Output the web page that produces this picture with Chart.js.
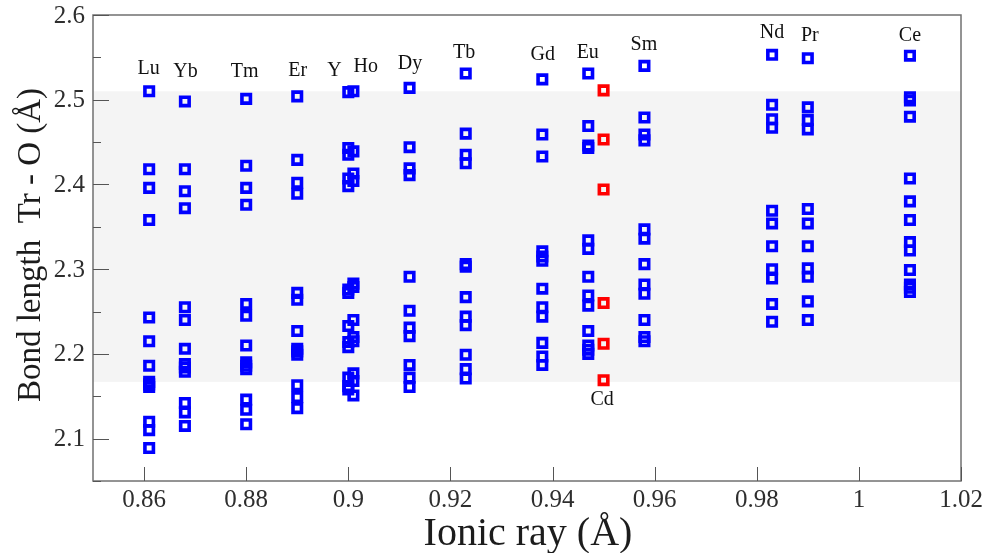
<!DOCTYPE html>
<html>
<head>
<meta charset="utf-8">
<script src="https://cdn.jsdelivr.net/npm/chart.js@4/dist/chart.umd.min.js"></script>
<style>
  html, body { margin: 0; padding: 0; background: #ffffff; }
  #wrap { width: 986px; height: 553px; }
</style>
</head>
<body>
<div id="wrap"><canvas id="bonds" width="986" height="553"></canvas></div>
<script>
// Trivalent cations and their ionic radii (Å)
const elements = ['Lu', 'Yb', 'Tm', 'Er', 'Y', 'Ho', 'Dy', 'Tb', 'Gd', 'Eu', 'Sm', 'Nd', 'Pr', 'Ce'];
const ionicRadius = [0.861, 0.868, 0.880, 0.890, 0.900, 0.901, 0.912, 0.923, 0.938, 0.947, 0.958, 0.983, 0.990, 1.010];

// Tr - O bond lengths (Å) found around each cation
const bondLengths = [
  [2.510, 2.418, 2.396, 2.358, 2.243, 2.215, 2.186, 2.167, 2.164, 2.161, 2.120, 2.110, 2.089],          // Lu
  [2.498, 2.418, 2.392, 2.372, 2.255, 2.240, 2.206, 2.188, 2.184, 2.179, 2.142, 2.131, 2.115],          // Yb
  [2.501, 2.422, 2.396, 2.376, 2.259, 2.245, 2.210, 2.190, 2.186, 2.182, 2.146, 2.134, 2.117],          // Tm
  [2.504, 2.429, 2.402, 2.389, 2.272, 2.264, 2.227, 2.206, 2.203, 2.199, 2.163, 2.149, 2.136],          // Er
  [2.509, 2.443, 2.435, 2.407, 2.398, 2.276, 2.272, 2.233, 2.214, 2.208, 2.172, 2.162, 2.158],          // Y
  [2.510, 2.439, 2.413, 2.404, 2.283, 2.279, 2.240, 2.220, 2.215, 2.177, 2.168, 2.151],                 // Ho
  [2.514, 2.444, 2.419, 2.411, 2.291, 2.251, 2.231, 2.221, 2.187, 2.172, 2.161],                        // Dy
  [2.531, 2.460, 2.435, 2.425, 2.306, 2.303, 2.267, 2.244, 2.234, 2.199, 2.182, 2.171],                 // Tb
  [2.524, 2.459, 2.433, 2.321, 2.315, 2.310, 2.277, 2.255, 2.244, 2.213, 2.197, 2.187],                 // Gd
  [2.531, 2.469, 2.446, 2.443, 2.334, 2.324, 2.291, 2.269, 2.257, 2.227, 2.210, 2.205, 2.200],          // Eu
  [2.540, 2.479, 2.459, 2.452, 2.347, 2.336, 2.306, 2.282, 2.271, 2.240, 2.220, 2.215],                 // Sm
  [2.553, 2.494, 2.477, 2.467, 2.369, 2.354, 2.327, 2.300, 2.289, 2.259, 2.238],                        // Nd
  [2.549, 2.491, 2.476, 2.465, 2.371, 2.354, 2.327, 2.301, 2.291, 2.262, 2.240],                        // Pr
  [2.552, 2.503, 2.499, 2.480, 2.407, 2.380, 2.358, 2.332, 2.322, 2.299, 2.282, 2.278, 2.273]           // Ce
];

// Cd2+ substituting on the same site
const cdRadius = 0.950;
const cdBondLengths = [2.511, 2.453, 2.394, 2.260, 2.212, 2.169];

// Name tags: [text, ionic radius, bond length] in axis units
const nameTags = [
  ['Lu', 0.8609, 2.5365], ['Yb', 0.8681, 2.5325], ['Tm', 0.8797, 2.5325], ['Er', 0.8901, 2.5345],
  ['Y', 0.8973, 2.5345], ['Ho', 0.9034, 2.5384], ['Dy', 0.9121, 2.5424], ['Tb', 0.9227, 2.5560],
  ['Gd', 0.9381, 2.5530], ['Eu', 0.9469, 2.5560], ['Sm', 0.9579, 2.5650], ['Nd', 0.9830, 2.5795],
  ['Pr', 0.9904, 2.5756], ['Ce', 1.0100, 2.5756], ['Cd', 0.9497, 2.1462]
];

// Shaded bond-length window
const bandRange = [2.167, 2.510];

// Axis ticks
const xTicks = [0.86, 0.88, 0.90, 0.92, 0.94, 0.96, 0.98, 1.00, 1.02];
const xTickLabels = ['0.86', '0.88', '0.9', '0.92', '0.94', '0.96', '0.98', '1', '1.02'];
const yTicks = [2.1, 2.2, 2.3, 2.4, 2.5, 2.6];
const yTickLabels = ['2.1', '2.2', '2.3', '2.4', '2.5', '2.6'];
const yMinorTicks = [2.05, 2.15, 2.25, 2.35, 2.45, 2.55];

const xTitle = 'Ionic ray (Å)';
const yTitle = 'Bond length  Tr - O (Å)';

// Flatten per-cation lists into scatter points
const rePoints = [];
elements.forEach((el, i) => {
  bondLengths[i].forEach(v => rePoints.push({ x: ionicRadius[i], y: v }));
});
const cdPoints = cdBondLengths.map(v => ({ x: cdRadius, y: v }));

const SERIF = '"Liberation Serif", "DejaVu Serif", serif';

const decorations = {
  id: 'decorations',
  beforeDatasetsDraw(chart) {
    const { ctx, chartArea: a, scales: { y } } = chart;
    const t = y.getPixelForValue(bandRange[1]);
    const b = y.getPixelForValue(bandRange[0]);
    ctx.save();
    ctx.fillStyle = '#f4f4f4';
    ctx.fillRect(a.left, t, a.right - a.left, b - t);
    ctx.restore();
  },
  afterDraw(chart) {
    const { ctx, chartArea: a, scales: { x, y } } = chart;
    ctx.save();

    // frame
    ctx.strokeStyle = '#707070';
    ctx.lineWidth = 1.5;
    ctx.strokeRect(a.left, a.top, a.right - a.left, a.bottom - a.top);

    // inward tick marks
    ctx.strokeStyle = '#555555';
    ctx.lineWidth = 1;
    ctx.beginPath();
    yTicks.forEach(v => {
      const p = Math.round(y.getPixelForValue(v)) + 0.5;
      ctx.moveTo(a.left, p); ctx.lineTo(a.left + 16, p);
    });
    yMinorTicks.forEach(v => {
      const p = Math.round(y.getPixelForValue(v)) + 0.5;
      ctx.moveTo(a.left, p); ctx.lineTo(a.left + 8, p);
    });
    xTicks.forEach(v => {
      const p = Math.round(x.getPixelForValue(v)) + 0.5;
      ctx.moveTo(p, a.bottom); ctx.lineTo(p, a.bottom - 14);
    });
    ctx.stroke();

    // tick labels
    ctx.fillStyle = '#2e2e2e';
    ctx.font = '25px ' + SERIF;
    ctx.textAlign = 'right';
    ctx.textBaseline = 'middle';
    yTicks.forEach((v, i) => ctx.fillText(yTickLabels[i], a.left - 8, y.getPixelForValue(v) + 1));
    ctx.textAlign = 'center';
    ctx.textBaseline = 'alphabetic';
    xTicks.forEach((v, i) => ctx.fillText(xTickLabels[i], x.getPixelForValue(v), a.bottom + 26));

    // axis titles
    ctx.fillStyle = '#1c1c1c';
    ctx.font = '40px ' + SERIF;
    ctx.fillText(xTitle, (a.left + a.right) / 2 + 1, a.bottom + 64);
    ctx.save();
    ctx.translate(40, 245);
    ctx.rotate(-Math.PI / 2);
    ctx.font = '33px ' + SERIF;
    ctx.fillText(yTitle, 0, 0);
    ctx.restore();

    // cation name tags
    ctx.fillStyle = '#111111';
    ctx.font = '20px ' + SERIF;
    ctx.textAlign = 'center';
    ctx.textBaseline = 'middle';
    nameTags.forEach(([txt, xv, yv]) => ctx.fillText(txt, x.getPixelForValue(xv), y.getPixelForValue(yv)));

    ctx.restore();
  }
};

new Chart(document.getElementById('bonds'), {
  type: 'scatter',
  data: {
    datasets: [
      {
        label: 'Tr',
        data: rePoints,
        pointStyle: 'rect',
        pointRadius: 6,
        pointBorderWidth: 3.6,
        borderColor: '#0000ff',
        backgroundColor: 'rgba(0,0,0,0)'
      },
      {
        label: 'Cd',
        data: cdPoints,
        pointStyle: 'rect',
        pointRadius: 6,
        pointBorderWidth: 3.6,
        borderColor: '#ff0000',
        backgroundColor: 'rgba(0,0,0,0)'
      }
    ]
  },
  options: {
    responsive: false,
    animation: false,
    events: [],
    layout: { padding: { left: 93, top: 15, right: 25, bottom: 72 } },
    plugins: { legend: { display: false }, tooltip: { enabled: false } },
    scales: {
      x: { type: 'linear', min: 0.85, max: 1.02, display: false },
      y: { type: 'linear', min: 2.05, max: 2.6, display: false }
    }
  },
  plugins: [decorations]
});
</script>
</body>
</html>
